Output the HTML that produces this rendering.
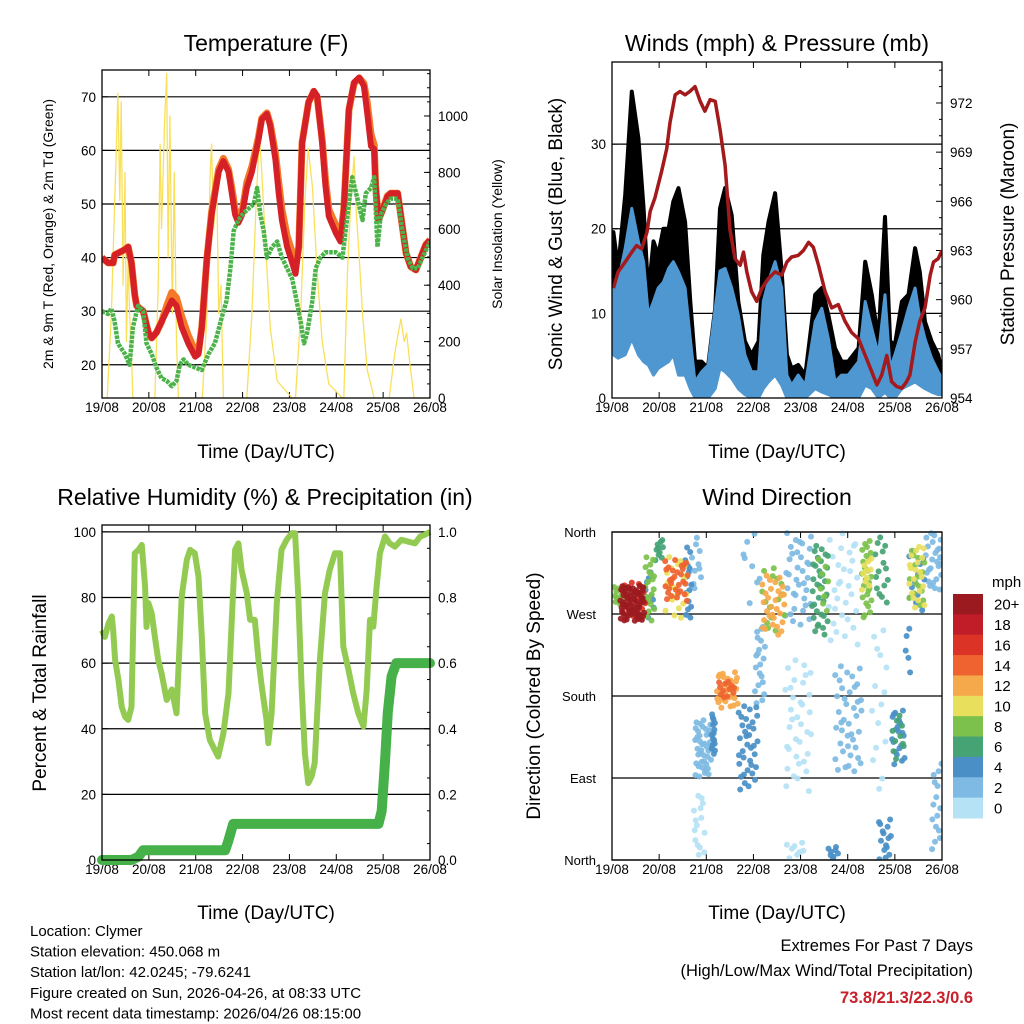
<!DOCTYPE html>
<html><head><meta charset="utf-8"><style>
html,body{margin:0;padding:0;background:#fff;}
svg{display:block;font-family:"Liberation Sans",Arial,sans-serif;}
</style></head><body>
<svg id="chart" width="1024" height="1024" viewBox="0 0 1024 1024" xmlns="http://www.w3.org/2000/svg"></svg>
<script>
// ---------- DATA ----------
const dayLabels = ["19/08","20/08","21/08","22/08","23/08","24/08","25/08","26/08"];
const tempDays = [0,.13,.24,.27,.49,.56,.63,.70,.74,.88,.99,1.06,1.16,1.27,1.38,1.49,1.59,1.70,1.84,1.99,2.06,2.13,2.24,2.34,2.49,2.59,2.70,2.77,2.84,2.91,2.99,3.09,3.2,3.34,3.41,3.52,3.59,3.7,3.77,3.84,3.95,4.06,4.13,4.2,4.27,4.41,4.52,4.59,4.7,4.77,4.84,4.99,5.09,5.16,5.27,5.38,5.49,5.59,5.66,5.74,5.81,5.84,5.9,5.99,6.09,6.16,6.31,6.38,6.49,6.59,6.7,6.81,6.91,7];
const temp2m = [40,39,39,40.5,41.5,42,39,33,31,30,26,25,26,28,30,32,31,27,24,21.5,22,27,40,48,56,58,56,52,48,46.5,48,53,56,62,65.8,66.8,64.6,58.3,52,47,42,39,37,42,61.4,69,71.1,70.2,61.4,53.3,47.7,44.6,43,48.9,67.7,72.7,73.6,72,67,60.8,60.2,53.3,47,48.9,51.4,52,52,47.7,40.8,38.3,37.7,40.2,42.4,43.3];
const temp9m = [40,39,39,40.5,41.5,42,39,33,31,30,26,25,26,28,31,33.5,32.5,29,25.5,22.5,22.5,27,40,48.5,56.5,58.5,56.5,53,49,48,48.5,54,57,62.5,66,67,65,59.5,54,49,44,41,38,42,61.5,69,71,70,62,54.5,49,46,44,49,67.5,72.5,73.5,72.5,69,63,61,53.5,47,49,51.5,52,52,47.7,40.8,38.3,37.7,40.2,42.4,43.3];
const dewDays = [0,.13,.2,.27,.34,.49,.59,.66,.77,.88,.95,1.06,1.16,1.27,1.38,1.49,1.59,1.66,1.74,1.84,1.99,2.13,2.27,2.41,2.56,2.66,2.74,2.81,2.91,3.02,3.24,3.31,3.38,3.45,3.52,3.63,3.74,3.84,3.95,4.06,4.13,4.24,4.31,4.38,4.49,4.56,4.66,4.77,4.99,5.13,5.24,5.34,5.45,5.56,5.63,5.74,5.81,5.88,5.95,6.06,6.16,6.31,6.41,6.52,6.63,6.74,6.84,7];
const dew2m = [30,29.5,30.5,28,24,22,20,27,31,30,24,22,19.5,17.5,17,16,17,20,21,20,19.5,19,22,24,29,32,38,45,47,48.3,50,53,48,45,40,42,43,40,38,36,33,28,24,26,32,38,40,41,41,40,48,55,51,47,52,53,55,42,48,50,51,51,45,40,38,38,40,43];
const solarDays = [0,.11,.2,.27,.31,.34,.38,.41,.45,.49,.52,.56,.59,.63,.66,1.13,1.2,1.24,1.27,1.34,1.38,1.41,1.45,1.5,1.54,1.59,1.63,2.14,2.24,2.31,2.34,2.38,2.45,2.49,2.54,2.59,3.09,3.2,3.29,3.36,3.41,3.49,3.59,3.74,4.06,4.13,4.24,4.33,4.4,4.49,4.59,4.7,4.84,5.13,5.16,5.24,5.31,5.38,5.43,5.49,5.56,5.66,5.81,6.13,6.24,6.31,6.38,6.45,6.5,6.57,6.66,7];
const solarWm2 = [0,0,300,700,900,1080,700,1050,400,800,200,500,300,150,0,0,400,900,600,1000,1150,500,1000,300,800,200,0,0,300,800,900,600,750,300,400,0,0,300,700,930,800,550,250,60,0,0,300,700,885,750,450,200,50,0,0,450,700,855,650,500,300,100,0,0,150,220,280,200,230,120,0,0];
const windDays = [.03,.13,.28,.42,.56,.67,.77,.88,.98,1.09,1.2,1.3,1.41,1.55,1.66,1.76,1.9,2.04,2.19,2.29,2.4,2.54,2.68,2.82,2.96,3.11,3.21,3.32,3.46,3.6,3.71,3.81,3.95,4.1,4.31,4.45,4.59,4.73,4.87,5.01,5.23,5.37,5.51,5.65,5.79,5.9,6.0,6.15,6.29,6.43,6.53,6.64,6.78,6.92,7.0];
const windHigh = [13,13.7,17.7,22.4,18.5,16.1,9.8,11.4,13,13.7,15.3,16.1,14.9,13,7,1.9,3.1,3.9,10.6,15,15.3,13,9.8,5.1,3.1,3.1,11.4,13.8,16.1,13,2.7,1.5,2.7,1.5,9,10.6,7,1.9,2.7,2.7,4.3,11.4,8.2,5.1,12.2,3.5,5.1,7.8,10.6,13,9.4,7,4.7,3.1,2.3];
const windLow = [5.1,4.7,5.1,7,5.1,4.3,3.9,2.7,3.5,3.9,4.3,5.1,2.7,2.7,1.1,0,0,0,1.1,3.5,3.1,2.3,1.1,.4,0,0,1.1,1.9,2.7,1.5,0,0,0,0,1.1,.7,.4,0,0,0,0,1.5,1.1,0,.7,0,0,1.1,1.5,1.9,1.5,1.1,.7,.4,.4];
const gustHigh = [19.6,15.3,24,36.2,30.7,22.4,12.2,18.5,16.9,20,20,23.2,24.8,20.8,11.4,4.3,4.3,3.5,10.6,22.4,24.8,21.6,11.4,6.7,5.1,6.7,16.9,20.8,24.2,14.9,5.1,3.5,3.9,2.7,12.2,13,9.8,5.9,4.3,4.3,5.9,16.1,12.2,6.7,21.4,6.7,6.3,11.4,12.2,17.7,14.9,9,6.7,5.1,3.1];
const presDays = [.03,.13,.28,.42,.52,.63,.74,.81,.91,1.05,1.16,1.23,1.34,1.44,1.55,1.65,1.76,1.87,1.97,2.08,2.19,2.29,2.4,2.5,2.61,2.72,2.79,2.86,2.96,3.07,3.18,3.32,3.46,3.6,3.71,3.81,3.95,4.06,4.17,4.27,4.38,4.52,4.66,4.8,4.94,5.08,5.23,5.37,5.51,5.62,5.72,5.83,5.93,6.04,6.15,6.25,6.32,6.43,6.53,6.64,6.75,6.82,6.92,7];
const presMb = [960.7,961.7,962.3,962.9,963.3,963.1,964.1,965.4,966.2,967.8,969.2,970.8,972.5,972.7,972.5,972.7,973,972.1,971.5,972.2,972.1,970.4,968.2,964.3,962.5,962.1,962.9,961.7,960.5,959.9,960.7,961.3,961.7,961.5,962.3,962.6,962.7,963,963.5,963.2,962.1,960.5,959.5,959.7,958.7,958,957.6,956.6,955.6,954.8,955.4,956.6,955,954.7,954.6,955,955.4,957.4,958.7,959.5,961.5,962.3,962.5,963];
const rhDays = [0,.06,.14,.21,.24,.28,.35,.42,.49,.56,.63,.7,.78,.85,.92,.95,.99,1.06,1.13,1.2,1.27,1.38,1.49,1.59,1.7,1.81,1.88,1.98,2.06,2.13,2.2,2.3,2.41,2.48,2.59,2.7,2.77,2.84,2.91,2.98,3.09,3.16,3.26,3.34,3.41,3.51,3.55,3.62,3.73,3.83,3.94,4.05,4.12,4.19,4.26,4.33,4.4,4.47,4.54,4.65,4.76,4.86,4.97,5.08,5.15,5.26,5.36,5.47,5.58,5.65,5.72,5.79,5.86,5.93,6.04,6.14,6.25,6.39,6.54,6.68,6.79,6.89,7];
const rhPct = [70,68,72.2,74.2,70,61,54.9,46.7,43.7,42.7,46.7,93.5,94.5,96,83.3,71,78.3,75.2,68,61,57,48.8,52,44.7,80.3,91.5,94.5,93.5,86.4,68,44.7,36.6,33.5,31.5,38.6,50.8,73.2,94.5,96.5,88.4,81.3,73.2,73.2,61,52.8,42.7,35.6,44.7,78.3,94.5,97.6,99.6,99.6,80.3,52.8,32.5,23.4,25.4,29.5,61,81.3,88.4,93.5,93.5,65,57.9,50.8,44.7,40.7,51.8,73.2,71.1,83.3,93.5,98.6,96.5,95.5,97.6,97,96.5,98.6,99.1,100];
const rainDays = [0,.63,.78,.88,2.63,2.7,2.8,5.9,5.97,6.04,6.1,6.18,6.28,7];
const rainIn = [0,0,.01,.03,.03,.06,.11,.11,.15,.3,.45,.56,.6,.6];
// Wind direction clusters: [dayStart, dayEnd, dirLow, dirHigh, speed, count]
const dirClusters = [
 [.03,.28,280,302,8,15],[.17,.7,262,302,20,60],[.2,.74,265,306,16,20],[.7,.91,262,335,8,20],[.7,.91,262,320,4,8],
 [.91,1.09,327,353,6,10],[1.12,1.62,284,331,14,30],[1.12,1.62,265,335,10,20],[1.55,1.69,265,346,4,15],[1.69,1.9,295,360,2,10],
 [1.76,2.11,90,155,2,40],[1.73,1.98,2,75,0,15],[2.11,2.19,112,163,4,15],[2.22,2.68,166,207,12,30],[2.26,2.61,178,196,14,12],
 [2.68,3.1,75,170,4,35],[2.75,3.17,280,360,2,8],[3.03,3.25,170,258,2,20],[3.18,3.67,247,313,12,30],[3.18,3.67,247,324,8,15],
 [3.67,4.24,258,360,2,35],[3.67,4.24,75,221,0,35],[3.67,4.1,0,20,0,8],[4.24,4.59,247,346,6,35],[4.38,4.59,258,331,8,8],
 [4.59,5.23,236,360,0,30],[4.73,5.3,97,214,2,40],[4.59,4.8,0,16,4,8],[5.3,5.51,265,353,8,25],[5.3,5.51,295,335,10,10],
 [5.58,5.86,276,360,6,15],[5.51,5.86,75,258,0,15],[5.93,6.22,104,166,4,20],[5.93,6.22,110,160,6,10],[5.65,5.93,0,46,4,15],
 [6.29,6.64,276,346,10,20],[6.29,6.64,276,346,8,15],[6.29,6.64,270,346,4,12],[6.64,7.0,295,360,2,25],[6.78,7.0,2,112,2,15],[6.2,6.35,186,258,4,5]
];
const speedLevels = ["0","2","4","6","8","10","12","14","16","18","20+"];
const speedColors = ["#b5e2f5","#7ebae3","#4a90c7","#45a374","#7cc14c","#e8e05d","#f6a94a","#ef6330","#dc3327","#c11d29","#9b1a1f"];
const extremes = ["73.8","21.3","22.3","0.6"];

// ---------- HELPERS ----------
const svg = document.getElementById('chart');
const NS = "http://www.w3.org/2000/svg";
function mk(tag, attrs, parent){ const e=document.createElementNS(NS,tag); for(const k in attrs) e.setAttribute(k,attrs[k]); (parent||svg).appendChild(e); return e; }
function txt(s, x, y, size, anchor, parent, extra){ const e=mk('text',Object.assign({x:x,y:y,'font-size':size,'text-anchor':anchor||'middle',fill:'#000'},extra||{}),parent); e.textContent=s; return e; }
function lin(a0,a1,b0,b1){ return v=>b0+(v-a0)/(a1-a0)*(b1-b0); }
function pathFrom(xs,ys,fx,fy){ return xs.map((t,i)=>(i?'L':'M')+fx(t).toFixed(1)+' '+fy(ys[i]).toFixed(1)).join(' '); }
function vdc(n,b){ let r=0,f=1/b; while(n>0){ r+=f*(n%b); n=Math.floor(n/b); f/=b; } return r; }

function panel(name, L,R,T,B, leftTicks, fyL, grid, rightTicks, fyR, rightMinor){
  const g=mk('g',{});
  
  
  const fx=lin(0,7,L,R);
  grid.forEach(v=>{ const l=mk('line',{x1:L,x2:R,y1:fyL(v),y2:fyL(v),stroke:'#000','stroke-width':1.2},g);
    
     });
  dayLabels.forEach((d,i)=>{ const x=fx(i);
    mk('line',{x1:x,x2:x,y1:B,y2:B-6,stroke:'#000','stroke-width':1},g);
    mk('line',{x1:x,x2:x,y1:T,y2:T+6,stroke:'#000','stroke-width':1},g);
    const t=txt(d,x,B+14,13.5,'middle',g);
    
     });
  leftTicks.forEach(v=>{ const y=fyL(v);
    mk('line',{x1:L,x2:L+6,y1:y,y2:y,stroke:'#000','stroke-width':1},g);
    if(leftTicks.labels!==false){ const t=txt(String(v),L-6,y+5,13.5,'end',g);
      
       } });
  if(rightTicks){ rightTicks.forEach(v=>{ const y=fyR(v);
      mk('line',{x1:R,x2:R-6,y1:y,y2:y,stroke:'#000','stroke-width':1},g);
      const t=txt(rightTicks.fmt?rightTicks.fmt(v):String(v),R+8,y+5,13.5,'start',g);
      
       });
    (rightMinor||[]).forEach(v=>{ const y=fyR(v); mk('line',{x1:R,x2:R-3,y1:y,y2:y,stroke:'#000','stroke-width':1},g); });
  }
  return {g,fx};
}
function frame(L,R,T,B){ const r=mk('rect',{x:L,y:T,width:R-L,height:B-T,fill:'none',stroke:'#000','stroke-width':1.3});
  
   }
function clip(id,L,R,T,B){ const d=mk('clipPath',{id:id}); mk('rect',{x:L,y:T,width:R-L,height:B-T},d); }

// ---------- PANEL 1: TEMPERATURE ----------
(function(){
  const L=102,R=430,T=70,B=398;
  const fy=lin(13.8,75,B,T), fyS=lin(0,1163,B,T);
  const rt=[0,200,400,600,800,1000];
  const minor=[]; for(let v=50;v<1163;v+=50) minor.push(v);
  const p=panel('temperature-panel',L,R,T,B,[20,30,40,50,60,70],fy,[20,30,40,50,60,70],rt,fyS,minor);
  clip('c1',L,R,T,B);
  const g=mk('g',{'clip-path':'url(#c1)'},p.g);
  const s=mk('path',{d:pathFrom(solarDays,solarWm2,p.fx,fyS),fill:'none',stroke:'#f9e05a','stroke-width':1.3,'stroke-linejoin':'round'},g);
  
  
  const o=mk('path',{d:pathFrom(tempDays,temp9m,p.fx,fy),fill:'none',stroke:'#f47a2a','stroke-width':7,'stroke-linejoin':'round'},g);
  
  
  const r=mk('path',{d:pathFrom(tempDays,temp2m,p.fx,fy),fill:'none',stroke:'#d42026','stroke-width':6,'stroke-linejoin':'round'},g);
  
  
  const d=mk('path',{d:pathFrom(dewDays,dew2m,p.fx,fy),fill:'none',stroke:'#4bb34a','stroke-width':4.5,'stroke-dasharray':'3.5 1','stroke-linejoin':'round'},g);
  
  
  frame(L,R,T,B);
  const t=txt('Temperature (F)',266,51,23);  
  const xa=txt('Time (Day/UTC)',266,458,19);  
  const ya=txt('2m & 9m T (Red, Orange) & 2m Td (Green)',0,0,14,'middle',svg,{transform:'translate(53,234) rotate(-90)'});  
  const yr=txt('Solar Insolation (Yellow)',0,0,14,'middle',svg,{transform:'translate(502,234) rotate(-90)'});  
})();

// ---------- PANEL 2: WINDS ----------
(function(){
  const L=612,R=942,T=62,B=398;
  const fy=lin(0,39.7,B,T), fyP=lin(954,974.5,B,T);
  const rt=[954,957,960,963,966,969,972];
  const minor=[]; for(let v=955;v<974.5;v+=1) if((v-954)%3) minor.push(v);
  const p=panel('winds-panel',L,R,T,B,[0,10,20,30],fy,[10,20,30],rt,fyP,minor);
  clip('c2',L,R,T,B);
  const g=mk('g',{'clip-path':'url(#c2)'},p.g);
  const top=windDays.map((t,i)=>p.fx(t).toFixed(1)+','+fy(gustHigh[i]).toFixed(1));
  const bot=windDays.map((t,i)=>p.fx(t).toFixed(1)+','+fy(windHigh[i]).toFixed(1)).reverse();
  const gp=mk('polygon',{points:top.concat(bot).join(' '),fill:'#000',stroke:'#000','stroke-width':4,'stroke-linejoin':'round'},g);
  
  
  const up=windDays.map((t,i)=>p.fx(t).toFixed(1)+','+fy(windHigh[i]).toFixed(1));
  const lo=windDays.map((t,i)=>p.fx(t).toFixed(1)+','+fy(windLow[i]).toFixed(1)).reverse();
  const wp=mk('polygon',{points:up.concat(lo).join(' '),fill:'#4f97d0',stroke:'#4f97d0','stroke-width':3,'stroke-linejoin':'round'},g);
  
  
  const pr=mk('path',{d:pathFrom(presDays,presMb,p.fx,fyP),fill:'none',stroke:'#a3191c','stroke-width':3.5,'stroke-linejoin':'round'},g);
  
  
  frame(L,R,T,B);
  const t=txt('Winds (mph) & Pressure (mb)',777,51,23);  
  const xa=txt('Time (Day/UTC)',777,458,19);  
  const ya=txt('Sonic Wind & Gust (Blue, Black)',0,0,19,'middle',svg,{transform:'translate(562,234) rotate(-90)'});  
  const yr=txt('Station Pressure (Maroon)',0,0,19,'middle',svg,{transform:'translate(1014,234) rotate(-90)'});  
})();

// ---------- PANEL 3: RH ----------
(function(){
  const L=102,R=430,T=525,B=860;
  const fy=lin(0,102.1,B,T), fyR=lin(0,1.021,B,T);
  const rt=[0,.2,.4,.6,.8,1.0]; rt.fmt=v=>v.toFixed(1);
  const minor=[]; for(let v=.05;v<1.02;v+=.1) minor.push(v);
  const p=panel('humidity-panel',L,R,T,B,[0,20,40,60,80,100],fy,[20,40,60,80,100],rt,fyR,minor);
  clip('c3',L-8,R+8,T,B+8);
  const g=mk('g',{'clip-path':'url(#c3)'},p.g);
  const rh=mk('path',{d:pathFrom(rhDays,rhPct,p.fx,fy),fill:'none',stroke:'#93cb52','stroke-width':6,'stroke-linejoin':'round'},g);
  
  
  const rn=mk('path',{d:pathFrom(rainDays,rainIn,p.fx,fyR),fill:'none',stroke:'#46b049','stroke-width':10,'stroke-linejoin':'round','stroke-linecap':'round'},g);
  
  
  frame(L,R,T,B);
  const t=txt('Relative Humidity (%) & Precipitation (in)',265,505,23);  
  const xa=txt('Time (Day/UTC)',266,919,19);  
  const ya=txt('Percent & Total Rainfall',0,0,19,'middle',svg,{transform:'translate(46,693) rotate(-90)'});  
})();

// ---------- PANEL 4: WIND DIRECTION ----------
(function(){
  const L=612,R=942,T=532,B=860;
  const fy=lin(0,360,B,T);
  const dl=[0,90,180,270,360]; dl.labels=false;
  const p=panel('wind-direction-panel',L,R,T,B,dl,fy,[0,90,180,270,360],null,null,null);
  const names=['North','East','South','West','North'];
  dl.forEach((v,i)=>{ const t=txt(names[i],L-16,fy(v)+5,13,'end',p.g);
    
     });
  clip('c4',L,R,T-4,B);
  const g=mk('g',{'clip-path':'url(#c4)'},p.g);
  const order=dirClusters.map((c,i)=>i).sort((a,b)=>dirClusters[a][4]-dirClusters[b][4]);
  order.forEach(ci=>{ const c=dirClusters[ci]; const col=speedColors[Math.min(10,Math.round(c[4]/2))];
    for(let i=0;i<c[5];i++){ const u=vdc(i+1+ci,2), w=vdc(i+1+ci*3,3);
      const dot=mk('circle',{cx:p.fx(c[0]+u*(c[1]-c[0])).toFixed(1),cy:fy(c[2]+w*(c[3]-c[2])).toFixed(1),r:3,fill:col,'fill-opacity':0.92},g);
      
       } });
  frame(L,R,T,B);
  const t=txt('Wind Direction',777,505,23);  
  const xa=txt('Time (Day/UTC)',777,919,19);  
  const ya=txt('Direction (Colored By Speed)',0,0,19,'middle',svg,{transform:'translate(540,696) rotate(-90)'});  
  const cb=mk('g',{});  
  const h=(818-594)/11;
  for(let i=0;i<11;i++){ const k=10-i; const y=594+i*h;
    const r=mk('rect',{x:953,y:y,width:30,height:h+0.5,fill:speedColors[k]},cb);
    
    
    const l=txt(speedLevels[k],994,y+h/2+5.5,15,'start',cb);
    
     }
  const m=txt('mph',992,587,15,'start',cb);  
})();

// ---------- FOOTER ----------
const infoLines=["Location: Clymer","Station elevation: 450.068 m","Station lat/lon: 42.0245; -79.6241","Figure created on Sun, 2026-04-26, at 08:33 UTC","Most recent data timestamp: 2026/04/26 08:15:00"];
infoLines.forEach((s,i)=>{ const t=txt(s,30,936+i*20.6,15,'start');
  
   });
const e1=txt('Extremes For Past 7 Days',973,951,16.5,'end');  
const e2=txt('(High/Low/Max Wind/Total Precipitation)',973,976,16.5,'end');  
const e3=txt(extremes.join('/'),973,1003,16.5,'end',svg,{fill:'#c8202a','font-weight':'bold'});  
</script>
</body></html>
